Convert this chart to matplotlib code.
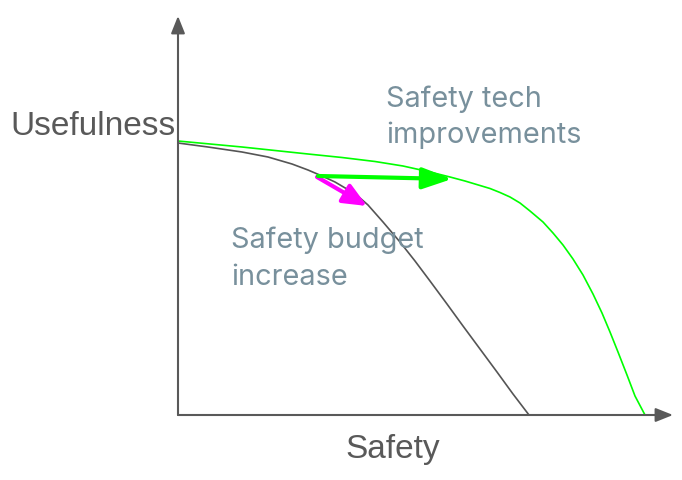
import matplotlib
matplotlib.use("Agg")
import matplotlib.pyplot as plt

# frontier points (safety, usefulness)
base_safety = [0.00, 0.15, 0.30, 0.64, 0.90, 1.14, 1.30, 1.44, 1.57, 1.74, 1.82, 1.90,
               2.05, 2.22, 2.37, 2.52, 2.69, 2.85, 3.02, 3.19, 3.35, 3.51]
base_useful = [2.72, 2.70, 2.68, 2.63, 2.58, 2.51, 2.45, 2.39, 2.33, 2.23, 2.17, 2.10,
               1.93, 1.73, 1.54, 1.34, 1.11, 0.89, 0.66, 0.43, 0.21, 0.00]

tech_safety = [0.00, 0.32, 0.64, 0.97, 1.30, 1.64, 1.97, 2.25, 2.52, 2.72, 2.87, 3.02,
               3.12, 3.22, 3.32, 3.42, 3.52, 3.65, 3.75, 3.85, 3.95, 4.05, 4.15, 4.24,
               4.32, 4.40, 4.49, 4.57, 4.67]
tech_useful = [2.74, 2.71, 2.68, 2.645, 2.61, 2.575, 2.535, 2.49, 2.43, 2.38, 2.34, 2.295,
               2.265, 2.225, 2.18, 2.12, 2.04, 1.93, 1.82, 1.70, 1.56, 1.40, 1.21, 1.02,
               0.83, 0.63, 0.40, 0.19, 0.00]

# arrows: (start, end)
budget_arrow = ((1.39, 2.38), (1.89, 2.09))
tech_arrow = ((1.40, 2.39), (2.74, 2.36))

axis_color = "#595959"
note_color = "#78909c"

fig = plt.figure(figsize=(6.82, 4.81), dpi=100)
ax = fig.add_axes([0, 0, 1, 1])
ax.set_xlim(-1.78, 5.04)
ax.set_ylim(-0.65, 4.16)
ax.axis("off")

# axes with arrow heads
axis_style = "-|>,head_length=0.75,head_width=0.3"
ax.annotate("", xy=(0, 3.99), xytext=(0, 0),
            arrowprops=dict(arrowstyle=axis_style, color=axis_color, lw=1.5,
                            mutation_scale=14, shrinkA=0, shrinkB=0))
ax.annotate("", xy=(4.95, 0), xytext=(0, 0),
            arrowprops=dict(arrowstyle=axis_style, color=axis_color, lw=1.5,
                            mutation_scale=14, shrinkA=0, shrinkB=0))

ax.plot(base_safety, base_useful, color="#555555", lw=1.2,
        solid_capstyle="round", solid_joinstyle="round")
ax.plot(tech_safety, tech_useful, color="#00ff00", lw=1.2,
        solid_capstyle="round", solid_joinstyle="round")

ax.annotate("", xy=budget_arrow[1], xytext=budget_arrow[0],
            arrowprops=dict(arrowstyle="-|>,head_length=0.8,head_width=0.35",
                            color="#ff00ff", lw=3, mutation_scale=18,
                            shrinkA=0, shrinkB=0))
ax.annotate("", xy=tech_arrow[1], xytext=tech_arrow[0],
            arrowprops=dict(arrowstyle="-|>,head_length=1.0,head_width=0.36",
                            color="#00ff00", lw=3, mutation_scale=18,
                            shrinkA=0, shrinkB=0))

ax.text(-1.68, 2.81, "Usefulness", fontsize=24, color=axis_color,
        family="Liberation Sans", va="baseline", ha="left")
ax.text(2.145, -0.42, "Safety", fontsize=24, color=axis_color,
        family="Liberation Sans", va="baseline", ha="center")

ax.text(2.08, 3.09, "Safety tech", fontsize=20.8, color=note_color,
        family="Inter", va="baseline", ha="left")
ax.text(2.08, 2.73, "improvements", fontsize=20.8, color=note_color,
        family="Inter", va="baseline", ha="left")
ax.text(0.53, 1.68, "Safety budget", fontsize=20.8, color=note_color,
        family="Inter", va="baseline", ha="left")
ax.text(0.53, 1.31, "increase", fontsize=20.8, color=note_color,
        family="Inter", va="baseline", ha="left")

fig.savefig("out.png", dpi=100)
